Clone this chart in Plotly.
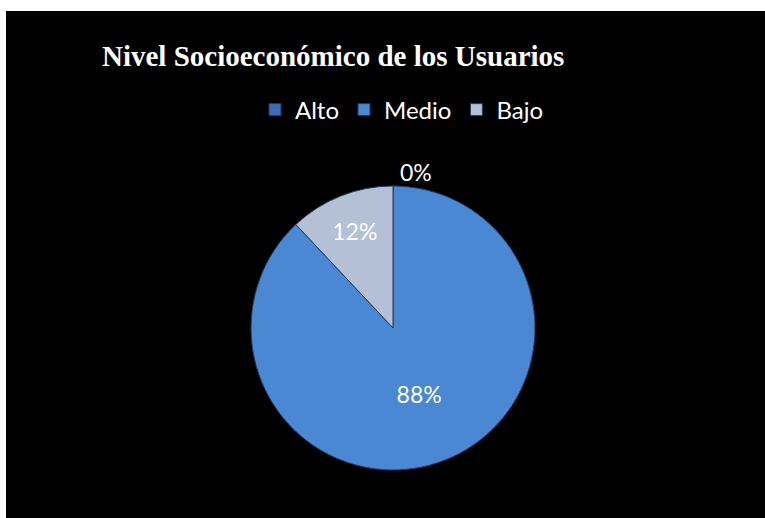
import plotly.graph_objects as go

labels = ["Alto", "Medio", "Bajo"]
values = [0, 88, 12]
colors = ["#3A6FB5", "#4A88D4", "#B4C0D6"]
title_text = "Nivel Socioeconómico de los Usuarios"

fig = go.Figure()
fig.add_trace(go.Pie(
    labels=labels,
    values=values,
    sort=False,
    direction="clockwise",
    rotation=0,
    marker=dict(colors=colors, line=dict(color="#1F3A5F", width=1)),
    textinfo="percent",
    texttemplate="%{percent:.0%}",
    textposition=["outside", "inside", "inside"],
    textfont=dict(family="Lato, Open Sans, sans-serif", size=23, color="white"),
    insidetextorientation="horizontal",
    domain=dict(x=[0.3228, 0.6970], y=[0.0947, 0.6549]),
    showlegend=True,
))

fig.update_layout(
    width=765, height=518,
    paper_bgcolor="white",
    margin=dict(l=6, r=0, t=11, b=0),
    shapes=[dict(type="rect", xref="paper", yref="paper", x0=0, x1=1, y0=0, y1=1,
                 fillcolor="black", line=dict(width=0), layer="below")],
    title=dict(text="<b>" + title_text + "</b>", xref="container", yref="container",
               x=102 / 765, xanchor="left", y=1 - 56 / 518, yanchor="middle",
               font=dict(family="Liberation Serif, Times New Roman, serif", size=29, color="white")),
    legend=dict(orientation="h", x=0.5217, xanchor="center", y=0.8047, yanchor="middle",
                font=dict(family="Lato, Open Sans, sans-serif", size=24, color="white"),
                bgcolor="rgba(0,0,0,0)", itemwidth=30, traceorder="normal"),
)

fig.write_html("out.html",
               config={"displayModeBar": False},
               post_script="document.body.style.margin='0px';document.body.style.overflow='hidden';")
